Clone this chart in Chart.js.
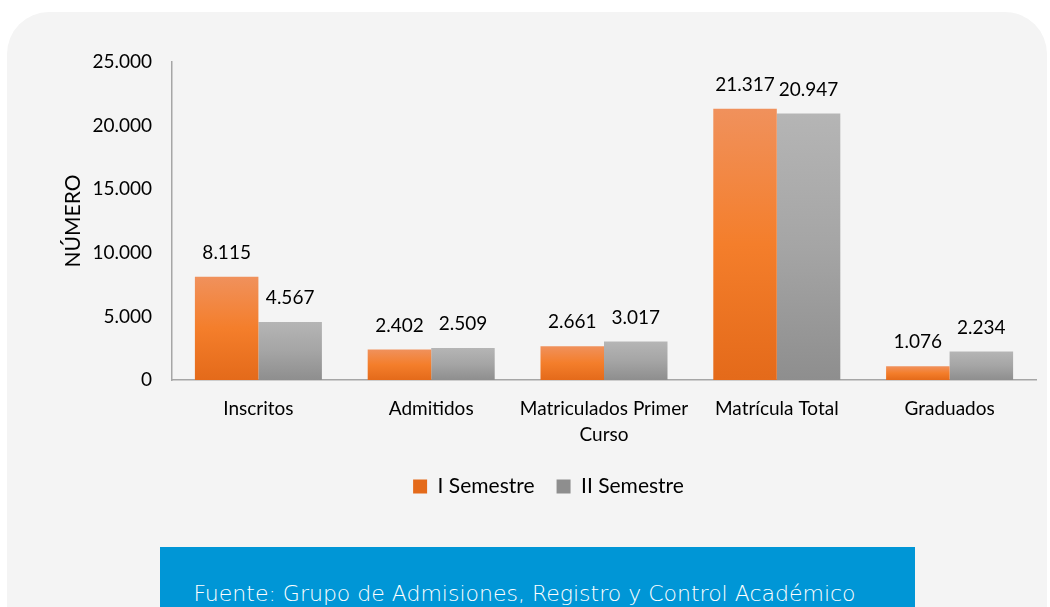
<!DOCTYPE html>
<html>
<head>
<meta charset="utf-8">
<script src="https://cdn.jsdelivr.net/npm/chart.js"></script>
<style>
  html, body { margin: 0; padding: 0; background: #fff; width: 1050px; height: 607px; overflow: hidden; }
  .panel { position: absolute; left: 7px; top: 12px; width: 1040px; height: 640px; background: #f4f4f4; border-radius: 42px; }
  .wrap { position: absolute; left: 0; top: 0; width: 1050px; height: 530px; }
  .fuente {
    position: absolute; left: 160px; top: 547px; width: 755px; height: 80px;
    background: #0096d6; color: #fff; text-align: center;
    font-family: "DejaVu Sans", sans-serif; font-weight: 200; font-size: 22px;
    padding-top: 34px; padding-right: 26px; box-sizing: border-box; white-space: nowrap;
  }
</style>
</head>
<body>
<div class="panel"></div>
<div class="wrap"><canvas id="chart" width="1050" height="530"></canvas></div>
<div class="fuente">Fuente: Grupo de Admisiones, Registro y Control Académico</div>
<script>
// Data
const categories = ['Inscritos', 'Admitidos', ['Matriculados Primer', 'Curso'], 'Matrícula Total', 'Graduados'];
const semestre1 = [8115, 2402, 2661, 21317, 1076];
const semestre2 = [4567, 2509, 3017, 20947, 2234];
const seriesNames = ['I Semestre', 'II Semestre'];
const yTicks = [0, 5000, 10000, 15000, 20000, 25000];

const fmt = v => String(v).replace(/\B(?=(\d{3})+(?!\d))/g, '.');

// vertical gradient per bar
function barFill(top, mid, bottom) {
  return ctx => {
    const chart = ctx.chart;
    const y = chart.scales && chart.scales.y;
    if (ctx.dataIndex === undefined || !y || y.top === undefined) return mid;
    const yTop = y.getPixelForValue(ctx.raw);
    const yBase = y.getPixelForValue(0);
    if (!isFinite(yTop) || yTop === yBase) return mid;
    const g = chart.ctx.createLinearGradient(0, yTop, 0, yBase);
    g.addColorStop(0, top);
    g.addColorStop(0.5, mid);
    g.addColorStop(1, bottom);
    return g;
  };
}

const labelPlugin = {
  id: 'valueLabels',
  afterDatasetsDraw(chart) {
    const c = chart.ctx;
    c.save();
    c.font = '19px Lato';
    c.fillStyle = '#000';
    c.textAlign = 'center';
    c.textBaseline = 'middle';
    chart.data.datasets.forEach((ds, i) => {
      chart.getDatasetMeta(i).data.forEach((bar, j) => {
        c.fillText(fmt(ds.data[j]), bar.x, bar.y - 24);
      });
    });
    c.restore();
  }
};

Chart.defaults.font.family = 'Lato, sans-serif';
Chart.defaults.color = '#000';

new Chart(document.getElementById('chart'), {
  type: 'bar',
  data: {
    labels: categories,
    datasets: [
      { label: seriesNames[0], data: semestre1, backgroundColor: barFill('#f0915c', '#f47e2b', '#e46a1a') },
      { label: seriesNames[1], data: semestre2, backgroundColor: barFill('#b5b5b5', '#a5a5a5', '#8e8e8e') }
    ]
  },
  options: {
    responsive: false,
    animation: false,
    categoryPercentage: 0.735,
    barPercentage: 1,
    layout: { padding: { left: 61, right: 14, top: 62, bottom: 23 } },
    plugins: {
      legend: {
        position: 'bottom',
        labels: { boxWidth: 14, boxHeight: 14, font: { size: 21 }, padding: 22, color: '#000' }
      },
      tooltip: { enabled: false }
    },
    scales: {
      x: {
        grid: { display: false },
        border: { color: '#a6a6a6', width: 1.5 },
        ticks: { font: { size: 19, lineHeight: 1.37 }, padding: 8, maxRotation: 0, autoSkip: false },
        afterFit: s => { s.height = 74; }
      },
      y: {
        min: 0, max: 25000,
        afterBuildTicks: s => { s.ticks = yTicks.map(v => ({ value: v })); },
        grid: { display: false },
        border: { color: '#a6a6a6', width: 1.5 },
        ticks: { font: { size: 19 }, padding: 12, callback: v => fmt(v) },
        title: { display: true, text: 'NÚMERO', font: { size: 21 }, padding: { top: 0, bottom: 0 } },
        afterFit: s => { s.width = 111; }
      }
    }
  },
  plugins: [labelPlugin]
});
</script>
</body>
</html>
